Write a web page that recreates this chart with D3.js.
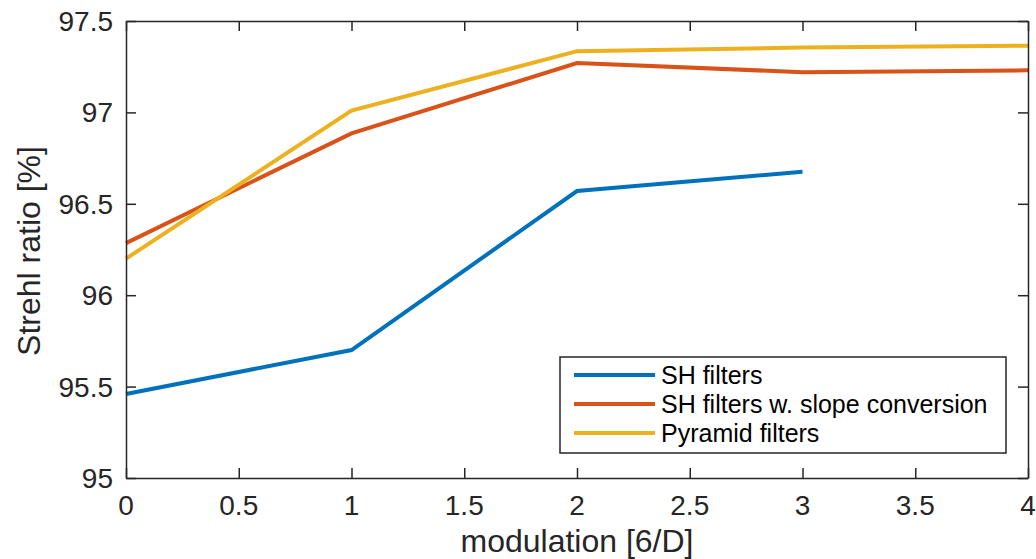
<!DOCTYPE html>
<html>
<head>
<style>
  body { margin: 0; background: #fff; font-family: "Liberation Sans", Arial, sans-serif; }
  .axis path, .axis line { stroke: #262626; stroke-width: 1.5px; }
  .ticklabel text { fill: #262626; font-size: 28px; font-family: "Liberation Sans", Arial, sans-serif; }
</style>
</head>
<body>
<svg id="chart" width="1036" height="559"></svg>
<script src="https://d3js.org/d3.v7.min.js"></script>
<script>
var modulation = [0, 1, 2, 3, 4]
var shFilters = [95.46, 95.70, 96.57, 96.675]
var shSlope = [96.285, 96.885, 97.27, 97.22, 97.23]
var pyramid = [96.20, 97.01, 97.335, 97.355, 97.365]
var seriesNames = ["SH filters", "SH filters w. slope conversion", "Pyramid filters"]
var seriesColors = ["#0072BD", "#D95319", "#EDB120"]
var xTicks = [0, 0.5, 1, 1.5, 2, 2.5, 3, 3.5, 4]
var yTicks = [95, 95.5, 96, 96.5, 97, 97.5]

var m = {left: 126, right: 1028, top: 21, bottom: 478}
var svg = d3.select("#chart")

var x = d3.scaleLinear().domain([0, 4]).range([m.left, m.right])
var y = d3.scaleLinear().domain([95, 97.5]).range([m.bottom, m.top])

// lines
var data = [shFilters, shSlope, pyramid]
var line = d3.line()
  .x(function(d, i) { return x(modulation[i]) })
  .y(function(d) { return y(d) })
data.forEach(function(s, i) {
  svg.append("path").datum(s)
    .attr("fill", "none").attr("stroke", seriesColors[i])
    .attr("stroke-width", 4).attr("d", line)
})

// axes, ticks point inward (box all round)
svg.append("g").attr("class", "axis")
  .attr("transform", "translate(0," + m.bottom + ")")
  .call(d3.axisTop(x).tickValues(xTicks).tickSize(10).tickSizeOuter(0).tickFormat(""))
svg.append("g").attr("class", "axis")
  .attr("transform", "translate(0," + m.top + ")")
  .call(d3.axisBottom(x).tickValues(xTicks).tickSize(10).tickSizeOuter(0).tickFormat(""))
svg.append("g").attr("class", "axis")
  .attr("transform", "translate(" + m.left + ",0)")
  .call(d3.axisRight(y).tickValues(yTicks).tickSize(10).tickSizeOuter(0).tickFormat(""))
svg.append("g").attr("class", "axis")
  .attr("transform", "translate(" + m.right + ",0)")
  .call(d3.axisLeft(y).tickValues(yTicks).tickSize(10).tickSizeOuter(0).tickFormat(""))

// tick labels
svg.append("g").attr("class", "ticklabel").selectAll("text")
  .data(xTicks).enter().append("text")
  .attr("x", function(d) { return x(d) }).attr("y", 515)
  .attr("text-anchor", "middle").text(function(d) { return d })
svg.append("g").attr("class", "ticklabel").selectAll("text")
  .data(yTicks).enter().append("text")
  .attr("x", 113).attr("y", function(d) { return y(d) + 10 })
  .attr("text-anchor", "end").text(function(d) { return d })

// axis labels
svg.append("text").attr("x", (m.left + m.right) / 2).attr("y", 552)
  .attr("text-anchor", "middle").attr("font-size", 32).attr("fill", "#262626")
  .text("modulation [6/D]")
svg.append("text").attr("transform", "translate(40,251) rotate(-90)")
  .attr("text-anchor", "middle").attr("font-size", 32).attr("fill", "#262626")
  .text("Strehl ratio [%]")

// legend
var lg = svg.append("g")
lg.append("rect").attr("x", 560).attr("y", 357).attr("width", 446).attr("height", 96)
  .attr("fill", "#fff").attr("stroke", "#262626").attr("stroke-width", 1.5)
seriesNames.forEach(function(n, i) {
  var yy = 375 + i * 29
  lg.append("line").attr("x1", 574).attr("x2", 655).attr("y1", yy).attr("y2", yy)
    .attr("stroke", seriesColors[i]).attr("stroke-width", 4)
  lg.append("text").attr("x", 661).attr("y", yy + 9).attr("font-size", 25)
    .attr("fill", "#000").text(n)
})
</script>
</body>
</html>
